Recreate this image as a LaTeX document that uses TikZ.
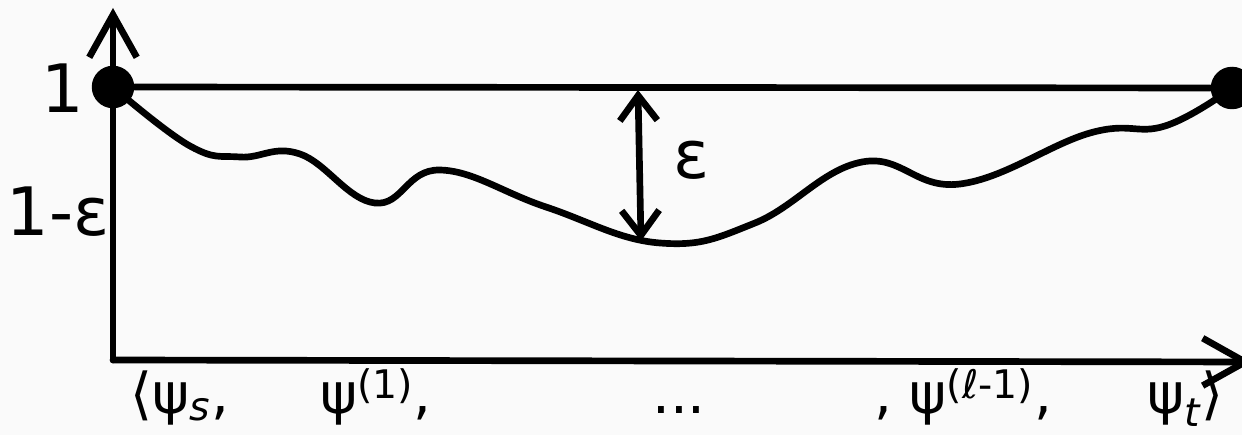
\documentclass[tikz,border=0pt]{standalone}
\usepackage{fontspec}
\setmainfont{DejaVu Sans}
\usetikzlibrary{arrows.meta}
\definecolor{paper}{RGB}{250,250,250}
\tikzset{
  sketch/.style={line width=3.8pt, line cap=round, line join=round},
  dot/.style={circle, fill=black, minimum size=0.85cm, inner sep=0pt},
  axistip/.style={-{Straight Barb[length=0.85cm, width=0.95cm]}},
  epstip/.style={{Straight Barb[length=0.5cm, width=0.75cm]}-{Straight Barb[length=0.5cm, width=0.75cm]}},
  biglabel/.style={font=\fontsize{38}{42}\selectfont, inner sep=0pt},
  ticklabel/.style={font=\fontsize{32}{36}\selectfont, inner sep=0pt, anchor=base},
}

\begin{document}
\begin{tikzpicture}[x=0.02cm, y=-0.02cm]
  % paper
  \fill[paper] (0,0) rectangle (1242,435);
  \useasboundingbox (0,0) rectangle (1242,435);

  % axes
  \coordinate (origin) at (113,360);
  \coordinate (ytop) at (113,8);
  \coordinate (xend) at (1252,362);
  \draw[sketch, axistip] (origin) -- (ytop);
  \draw[sketch, axistip] (origin) -- (xend);

  % end points
  \node[dot] (start) at (113,87) {};
  \node[dot] (stop) at (1232,88) {};
  \draw[sketch] (start) -- (stop);

  % path of the walk
  \draw[sketch] plot[smooth, tension=0.7] coordinates {
    (start.center) (190,146) (240,157) (300,154) (375,203)
    (440,170) (546,207) (660,243) (755,223) (862,162) (960,184)
    (1090,133) (1165,126) (stop.center)};

  % gap
  \coordinate (epstop) at (638,90);
  \coordinate (epsbot) at (641,241);
  \draw[sketch, epstip] (epstop) -- (epsbot);
  \node[biglabel] (eps) at (692,160) {ε};

  % y labels
  \node[biglabel] (one) at (63,88) {1};
  \node[biglabel] (oneeps) at (58,212) {1-ε};

  % x labels
  \node[ticklabel] (psis) at (180,414) {⟨ψ\textsubscript{\textit{s}},};
  \node[ticklabel] (psione) at (376,414) {ψ\textsuperscript{(1)},};
  \node[ticklabel] (dots) at (679,414) {...};
  \node[ticklabel] (psilast) at (963,414) {, ψ\textsuperscript{(ℓ-1)},};
  \node[ticklabel, anchor=base east] (psit) at (1224,414) {ψ\textsubscript{\textit{t}}⟩};
\end{tikzpicture}
\end{document}
